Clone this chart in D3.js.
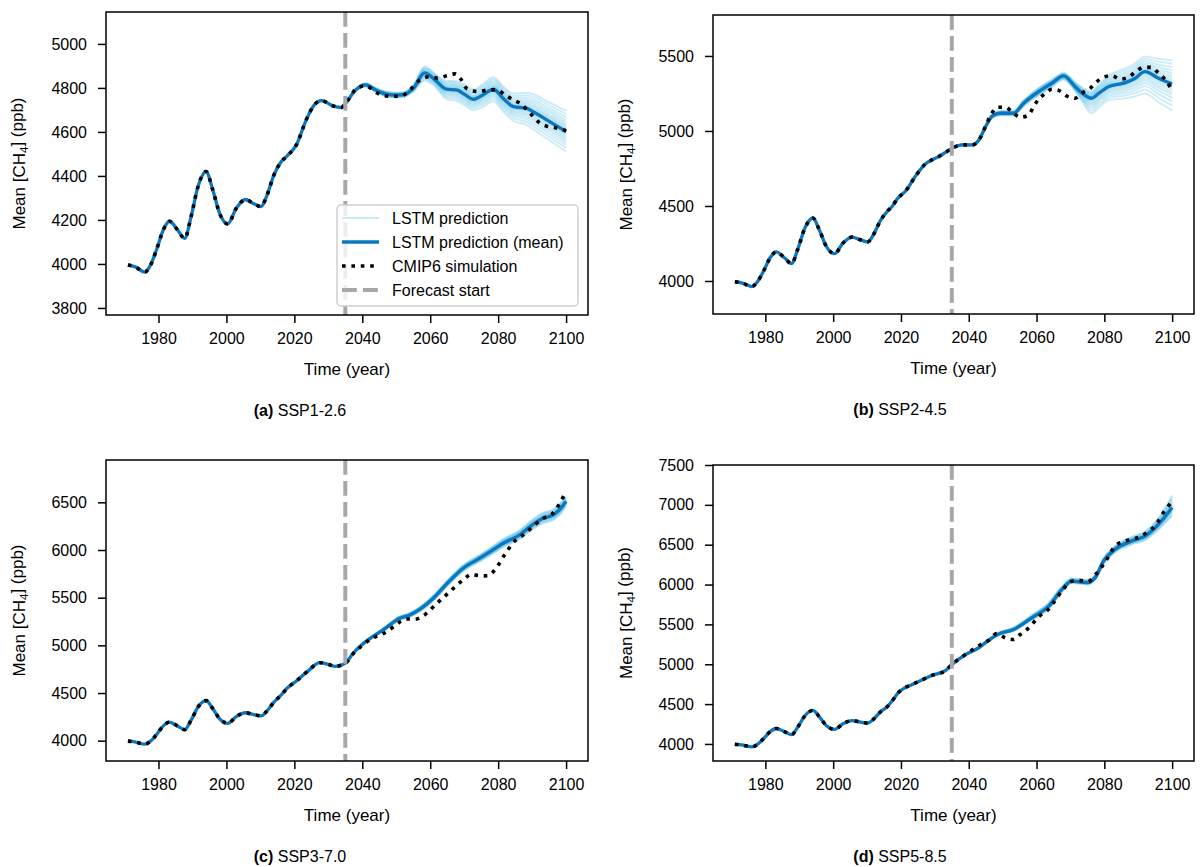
<!DOCTYPE html>
<html>
<head>
<meta charset="utf-8">
<script src="https://cdn.jsdelivr.net/npm/d3@7"></script>
<style>
  body { margin: 0; background: #fff; }
  svg { display: block; font-family: "Liberation Sans", Arial, Helvetica, sans-serif; }
</style>
</head>
<body>
<svg id="chart" width="1200" height="867"></svg>
<script>
// ---- Mean CH4 (ppb): shared historical simulation, 1971-2014 ----
const histCH4 = [
  [1971,3995],[1973,3988],[1976,3963],[1977.5,3990],[1979.5,4068],[1981.5,4158],[1983.2,4194],
  [1985.6,4155],[1987.7,4116],[1989.6,4215],[1991.6,4350],[1994,4420],[1996,4336],[1998,4230],
  [2000.4,4182],[2002.9,4253],[2005.6,4293],[2007.8,4276],[2010.2,4261],[2011.8,4306],[2014,4405]
];

// ---- CMIP6 scenario simulations, 2016-2100 ----
const cmipSSP126 = [
  [2016,4462],[2017.8,4490],[2020.6,4541],[2023.5,4655],[2026,4725],[2028,4742],[2031.4,4718],
  [2033.8,4711],[2035,4728],[2038.3,4797],[2041,4810],[2043.7,4783],[2046.1,4765],[2049,4762],
  [2051.5,4764],[2054,4791],[2057,4836],[2059.9,4851],[2062.3,4844],[2064.8,4855],[2067.3,4864],
  [2069.2,4836],[2070.7,4798],[2074.6,4783],[2077,4791],[2079.6,4791],[2082,4768],[2084.5,4745],
  [2086.4,4730],[2089.9,4677],[2092.3,4640],[2094.3,4626],[2096.3,4621],[2100,4605]
];
const cmipSSP245 = [
  [2016,4465],[2017.5,4500],[2019,4550],[2021.3,4598],[2024.2,4696],[2027.2,4780],[2029.1,4807],
  [2031.1,4829],[2033,4855],[2035,4884],[2038,4907],[2041,4907],[2043,4940],[2044.9,5029],
  [2046.3,5096],[2048.5,5158],[2050.8,5158],[2053,5122],[2055.2,5091],[2057.7,5107],[2059,5158],
  [2060.6,5211],[2062.6,5251],[2064.5,5278],[2066.7,5269],[2068.9,5233],[2071.4,5218],[2073.3,5251],
  [2075.8,5284],[2077.8,5329],[2079.8,5358],[2082.2,5369],[2084.7,5345],[2087.1,5358],[2089.3,5395],
  [2091.6,5424],[2094,5424],[2096,5384],[2098,5340],[2099.5,5291]
];
const cmipSSP370 = [
  [2016,4475],[2018,4555],[2020.6,4626],[2024,4730],[2027.5,4818],[2030,4800],[2032,4780],
  [2034,4795],[2035,4812],[2037.5,4920],[2040,5000],[2043,5075],[2046,5120],[2049,5190],
  [2051.5,5255],[2053,5277],[2055.5,5274],[2058,5312],[2062,5442],[2065.8,5564],[2069.7,5686],
  [2072.2,5746],[2074.6,5728],[2077.1,5731],[2079,5791],[2082,5956],[2084.9,6095],[2087.4,6158],
  [2090.8,6263],[2093.3,6333],[2095.8,6375],[2098.7,6526],[2100,6620]
];
const cmipSSP585 = [
  [2016,4470],[2017.5,4545],[2019.1,4638],[2021,4700],[2023.2,4743],[2026,4800],[2029.1,4860],
  [2033.1,4919],[2035,4995],[2039,5121],[2043.9,5255],[2045.9,5300],[2048.3,5385],[2050.8,5331],
  [2053.2,5310],[2055.2,5373],[2057.7,5457],[2060.8,5603],[2063,5666],[2065,5772],[2068,5948],
  [2070,6036],[2072.4,6053],[2075.1,6036],[2077.3,6120],[2080.3,6288],[2083.2,6485],[2085.7,6540],
  [2088.1,6569],[2090.5,6599],[2093,6666],[2095,6737],[2097.8,6926],[2100,7040]
];

// ---- LSTM ensemble mean, 2035-2100 ----
const lstmSSP126 = [
  [2035,4728],[2038,4790],[2041,4814],[2044,4790],[2047,4772],[2050,4767],[2052,4769],[2055,4798],
  [2058.4,4868],[2061,4842],[2064.8,4794],[2067.7,4791],[2070,4772],[2072.7,4748],[2075.5,4768],
  [2078.6,4794],[2081.5,4752],[2084.5,4715],[2088.4,4707],[2090.3,4692],[2094.3,4655],[2100,4601]
];
const lstmSSP245 = [
  [2035,4884],[2038,4907],[2041,4907],[2043,4940],[2045,5030],[2047,5100],[2049.3,5118],[2053.2,5118],
  [2056.2,5185],[2060.6,5262],[2064.5,5318],[2068,5367],[2071.4,5295],[2073.8,5245],[2076.1,5218],
  [2078.6,5255],[2081.2,5295],[2086.2,5322],[2089,5350],[2092,5395],[2096,5351],[2100,5313]
];
const lstmSSP370 = [
  [2035,4812],[2037.5,4925],[2039.8,5004],[2043,5090],[2046.1,5162],[2051,5284],[2054,5319],[2057,5380],
  [2060.9,5494],[2065,5650],[2069.7,5809],[2074.6,5914],[2078,5990],[2081.5,6071],[2086.4,6160],
  [2090.3,6270],[2093,6330],[2096.2,6368],[2098,6420],[2100,6508]
];
const lstmSSP585 = [
  [2035,4995],[2039,5121],[2042.9,5205],[2045.5,5290],[2048.8,5380],[2053.2,5436],[2058.6,5583],
  [2063.6,5729],[2067.5,5939],[2070.4,6044],[2074.9,6024],[2077.3,6087],[2079.8,6296],[2083.2,6443],
  [2088.1,6548],[2092.1,6611],[2096,6758],[2100,6968]
];

// ---- Ensemble spread below / above the mean (ppb), one value per mean point ----
const spreadLoSSP126 = [0,5,8,10,12,12,12,15,35,30,45,50,50,50,55,55,60,65,75,80,85,90];
const spreadHiSSP126 = [0,5,8,10,12,12,12,15,30,28,38,40,45,45,50,55,55,60,70,80,85,95];
const spreadLoSSP245 = [0,3,5,8,10,12,15,15,20,25,25,25,30,60,100,95,90,105,120,145,160,175];
const spreadHiSSP245 = [0,3,5,8,10,12,15,15,20,25,25,20,30,40,45,60,75,95,100,100,130,160];
const spreadLoSSP370 = [0,5,8,12,15,20,22,25,28,30,32,35,40,40,45,50,55,55,55,50];
const spreadHiSSP370 = [0,5,8,12,15,20,22,25,28,30,32,35,40,45,50,55,60,60,60,55];
const spreadLoSSP585 = [0,8,12,15,18,20,25,35,30,25,25,25,35,40,45,55,70,110];
const spreadHiSSP585 = [0,8,12,15,18,25,35,45,40,35,35,35,40,45,50,60,80,150];

// Relative position of each ensemble member inside the spread (-1 lowest, +1 highest)
const memberPositions = [-1,-0.82,-0.66,-0.52,-0.4,-0.3,-0.2,-0.12,-0.05,0,0.04,0.1,0.17,0.25,0.34,0.45,0.57,0.7,0.85,1];

const forecastStart = 2035;
const xTicks = [1980, 2000, 2020, 2040, 2060, 2080, 2100];
const yTicksSSP126 = [3800, 4000, 4200, 4400, 4600, 4800, 5000];
const yTicksSSP245 = [4000, 4500, 5000, 5500];
const yTicksSSP370 = [4000, 4500, 5000, 5500, 6000, 6500];
const yTicksSSP585 = [4000, 4500, 5000, 5500, 6000, 6500, 7000, 7500];
const scenarioNames = ["SSP1-2.6", "SSP2-4.5", "SSP3-7.0", "SSP5-8.5"];
const panelLetters = ["a", "b", "c", "d"];
const legendLabels = ["LSTM prediction", "LSTM prediction (mean)", "CMIP6 simulation", "Forecast start"];

// ---- Styles ----
const COL_MEAN = "#0a77bf";
const COL_MEMBER = "#38b0e2";
const MEMBER_OPACITY = 0.26;
const COL_FORECAST = "#a7a7aa";

const panels = [
  { cmip: cmipSSP126, lstm: lstmSSP126, lo: spreadLoSSP126, hi: spreadHiSSP126, yTicks: yTicksSSP126,
    yDomain: [3768, 5145], box: { l: 106, r: 588, t: 12, b: 315 }, cx: 300, legend: true },
  { cmip: cmipSSP245, lstm: lstmSSP245, lo: spreadLoSSP245, hi: spreadHiSSP245, yTicks: yTicksSSP245,
    yDomain: [3780, 5773], box: { l: 713, r: 1194, t: 15, b: 314 }, cx: 900 },
  { cmip: cmipSSP370, lstm: lstmSSP370, lo: spreadLoSSP370, hi: spreadHiSSP370, yTicks: yTicksSSP370,
    yDomain: [3787, 6944], box: { l: 106, r: 588, t: 460, b: 761 }, cx: 300 },
  { cmip: cmipSSP585, lstm: lstmSSP585, lo: spreadLoSSP585, hi: spreadHiSSP585, yTicks: yTicksSSP585,
    yDomain: [3786, 7500], box: { l: 713, r: 1194, t: 465, b: 761 }, cx: 900 }
];

const svg = d3.select("#chart");
const xDomain = [1964.55, 2106.45];

function addCH4Label(sel) {
  sel.append("tspan").text("Mean [CH");
  sel.append("tspan").text("4").attr("font-size", "11.5px").attr("dy", "0.3em");
  sel.append("tspan").text("] (ppb)").attr("dy", "-0.3em");
}

panels.forEach((p, i) => {
  const { l, r, t, b } = p.box;
  const x = d3.scaleLinear().domain(xDomain).range([l, r]);
  const y = d3.scaleLinear().domain(p.yDomain).range([b, t]);
  const g = svg.append("g");

  const clipId = "clip" + i;
  svg.append("clipPath").attr("id", clipId)
    .append("rect").attr("x", l).attr("y", t).attr("width", r - l).attr("height", b - t);

  const plot = g.append("g").attr("clip-path", `url(#${clipId})`);
  const line = d3.line().x(d => x(d[0])).y(d => y(d[1])).curve(d3.curveMonotoneX);

  // ensemble members
  memberPositions.forEach(pos => {
    const member = p.lstm.map((d, k) => [d[0], d[1] + (pos < 0 ? pos * p.lo[k] : pos * p.hi[k])]);
    plot.append("path").datum(member)
      .attr("d", line).attr("fill", "none")
      .attr("stroke", COL_MEMBER).attr("stroke-opacity", MEMBER_OPACITY).attr("stroke-width", 1.8);
  });

  // full simulated series (historical + scenario)
  const cmipFull = histCH4.concat(p.cmip);
  // mean line: simulation up to the forecast start, LSTM mean afterwards
  const meanFull = histCH4.concat(p.cmip.filter(d => d[0] < forecastStart)).concat(p.lstm);

  plot.append("path").datum(meanFull)
    .attr("d", line).attr("fill", "none")
    .attr("stroke", COL_MEAN).attr("stroke-width", 3.3).attr("stroke-linejoin", "round");

  plot.append("path").datum(cmipFull)
    .attr("d", line).attr("fill", "none")
    .attr("stroke", "#000").attr("stroke-width", 3.6).attr("stroke-dasharray", "3.6,5.8");

  plot.append("line")
    .attr("x1", x(forecastStart)).attr("x2", x(forecastStart))
    .attr("y1", t).attr("y2", b)
    .attr("stroke", COL_FORECAST).attr("stroke-width", 4).attr("stroke-dasharray", "14.8,6.2");

  // axes
  const xAxis = d3.axisBottom(x).tickValues(xTicks).tickFormat(d3.format("d")).tickSize(8).tickPadding(10);
  const yAxis = d3.axisLeft(y).tickValues(p.yTicks).tickFormat(d3.format("d")).tickSize(8).tickPadding(11);
  const gx = g.append("g").attr("transform", `translate(0,${b})`).call(xAxis);
  const gy = g.append("g").attr("transform", `translate(${l},0)`).call(yAxis);
  [gx, gy].forEach(ax => {
    ax.select(".domain").remove();
    ax.selectAll(".tick line").attr("stroke", "#000").attr("stroke-width", 1.5);
    ax.selectAll(".tick text").attr("fill", "#000").attr("font-size", "16px")
      .attr("font-family", "\"Liberation Sans\", Arial, sans-serif");
  });

  g.append("rect").attr("x", l).attr("y", t).attr("width", r - l).attr("height", b - t)
    .attr("fill", "none").attr("stroke", "#000").attr("stroke-width", 1.5);

  // axis titles
  g.append("text").attr("x", (l + r) / 2).attr("y", b + 60)
    .attr("text-anchor", "middle").attr("font-size", "17px").text("Time (year)");
  const yl = g.append("text")
    .attr("transform", `translate(${l - 81},${(t + b) / 2}) rotate(-90)`)
    .attr("text-anchor", "middle").attr("font-size", "17px");
  addCH4Label(yl);

  // caption
  const cap = g.append("text").attr("x", p.cx).attr("y", b + 101)
    .attr("text-anchor", "middle").attr("font-size", "16px");
  cap.append("tspan").attr("font-weight", "bold").text(`(${panelLetters[i]})`);
  cap.append("tspan").text(" " + scenarioNames[i]);

  // legend
  if (p.legend) {
    const lg = g.append("g");
    lg.append("rect").attr("x", 337).attr("y", 205).attr("width", 241).attr("height", 101)
      .attr("rx", 4).attr("fill", "#fff").attr("fill-opacity", 0.8)
      .attr("stroke", "#d0d0d0").attr("stroke-width", 1.5);
    const styles = [
      { stroke: COL_MEMBER, op: MEMBER_OPACITY, w: 2, dash: null },
      { stroke: COL_MEAN, op: 1, w: 3.3, dash: null },
      { stroke: "#000", op: 1, w: 3.6, dash: "3.6,5.8" },
      { stroke: COL_FORECAST, op: 1, w: 4, dash: "14.8,6.2" }
    ];
    legendLabels.forEach((lab, k) => {
      const cy = 218 + k * 24;
      const s = styles[k];
      lg.append("line").attr("x1", 342).attr("x2", 379).attr("y1", cy).attr("y2", cy)
        .attr("stroke", s.stroke).attr("stroke-opacity", s.op).attr("stroke-width", s.w)
        .attr("stroke-dasharray", s.dash);
      lg.append("text").attr("x", 392).attr("y", cy).attr("dy", "0.35em")
        .attr("font-size", "16px").text(lab);
    });
  }
});
</script>
</body>
</html>
